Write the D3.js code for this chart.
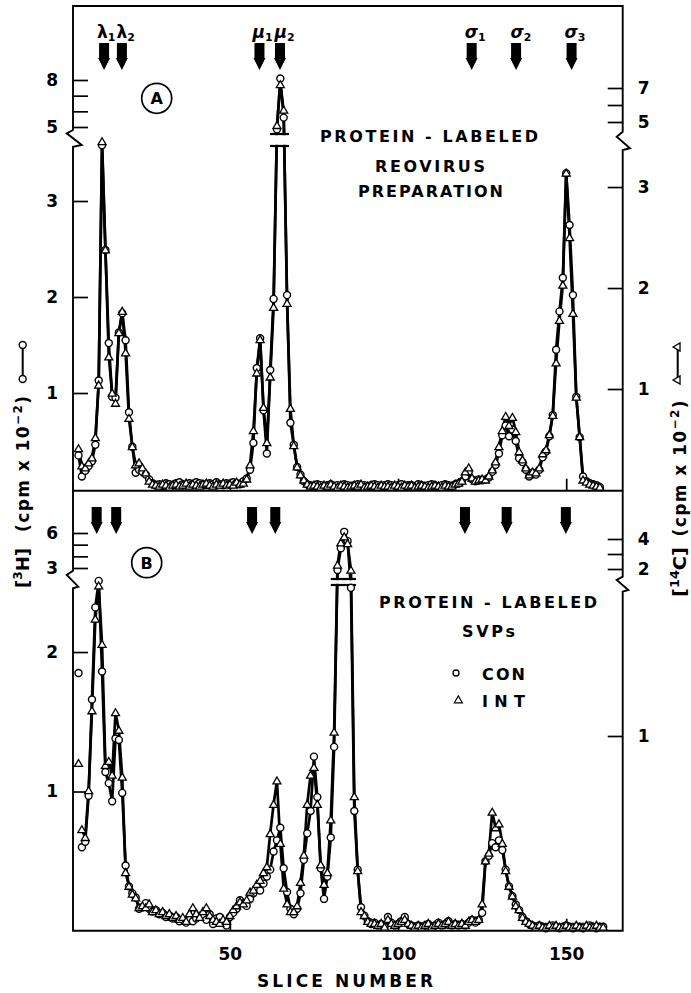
<!DOCTYPE html>
<html>
<head>
<meta charset="utf-8">
<script src="https://cdn.jsdelivr.net/npm/d3@7"></script>
<style>
  body { margin: 0; background: #fff; }
  svg text { font-family: "DejaVu Sans", sans-serif; font-weight: bold; fill: #000; }
</style>
</head>
<body>
<svg id="chart" width="691" height="993"></svg>
<script>
// ---- data ----
// panel A: reovirus preparation, slices 5..160
var firstSliceA = 5;
var conA = [0.35,0.13,0.19,0.24,0.29,0.46,1.13,3.58,2.49,1.52,
  0.96,0.95,1.63,1.83,1.55,0.8,0.44,0.17,0.2,0.18,
  0.15,0.1,0.06,0.04,0.05,0.03,0.06,0.05,0.04,0.06,
  0.07,0.05,0.04,0.06,0.05,0.07,0.06,0.05,0.04,0.06,
  0.05,0.07,0.05,0.04,0.06,0.05,0.07,0.06,0.05,0.08,
  0.11,0.2,0.48,1.26,1.57,0.82,0.37,1.24,1.98,4.85,
  8.1,5.6,2.02,0.69,0.46,0.23,0.15,0.08,0.05,0.04,
  0.03,0.05,0.04,0.03,0.04,0.05,0.03,0.04,0.03,0.05,
  0.04,0.03,0.04,0.05,0.03,0.04,0.03,0.04,0.05,0.04,
  0.03,0.04,0.05,0.04,0.03,0.04,0.05,0.03,0.04,0.04,
  0.03,0.05,0.04,0.03,0.04,0.05,0.04,0.03,0.04,0.05,
  0.04,0.03,0.05,0.06,0.08,0.13,0.18,0.1,0.08,0.1,
  0.09,0.1,0.12,0.18,0.25,0.37,0.56,0.66,0.55,0.62,
  0.5,0.32,0.28,0.2,0.13,0.17,0.15,0.2,0.33,0.39,
  0.55,0.77,1.45,1.85,2.2,3.29,2.75,2.02,0.96,0.54,
  0.13,0.08,0.06,0.05,0.04,0.02];
var intA = [0.41,0.24,0.22,0.27,0.32,0.52,1.04,3.45,2.38,1.32,
  0.96,0.86,1.56,1.77,1.36,0.71,0.43,0.25,0.27,0.22,
  0.17,0.09,0.06,0.05,0.04,0.06,0.05,0.03,0.05,0.06,
  0.04,0.05,0.07,0.04,0.06,0.05,0.04,0.06,0.07,0.05,
  0.04,0.06,0.05,0.07,0.05,0.06,0.05,0.08,0.06,0.07,
  0.11,0.25,0.59,1.16,1.49,0.82,0.47,1.12,1.81,4.8,
  7.2,5.7,1.85,0.81,0.44,0.23,0.15,0.1,0.06,0.04,
  0.05,0.04,0.03,0.05,0.04,0.06,0.04,0.03,0.05,0.04,
  0.03,0.04,0.05,0.04,0.06,0.03,0.04,0.05,0.04,0.03,
  0.05,0.04,0.04,0.03,0.05,0.04,0.03,0.05,0.04,0.05,
  0.03,0.04,0.05,0.04,0.03,0.04,0.05,0.04,0.03,0.05,
  0.04,0.04,0.06,0.07,0.09,0.18,0.22,0.12,0.09,0.1,
  0.11,0.1,0.14,0.2,0.28,0.43,0.59,0.73,0.64,0.72,
  0.58,0.38,0.3,0.22,0.15,0.18,0.17,0.22,0.36,0.4,
  0.55,0.74,1.26,1.68,2.03,3.14,2.5,1.75,0.92,0.53,
  0.1,0.08,0.06,0.05,0.04,0.03];

// panel B: SVPs, slices 5..161 (slice 5 plotted as a loose point)
var firstSliceB = 5;
var conB = [1.85,0.6,0.64,0.97,1.66,2.32,2.51,1.86,1.14,1.06,
  0.93,1.38,1.37,0.99,0.47,0.32,0.27,0.24,0.16,0.17,
  0.2,0.16,0.14,0.15,0.12,0.13,0.1,0.11,0.09,0.1,
  0.07,0.08,0.06,0.08,0.07,0.09,0.11,0.1,0.08,0.12,
  0.05,0.09,0.1,0.06,0.04,0.1,0.13,0.16,0.22,0.2,
  0.18,0.23,0.27,0.3,0.29,0.34,0.39,0.44,0.57,0.65,
  0.74,0.45,0.28,0.16,0.12,0.16,0.27,0.51,0.7,0.86,
  1.25,0.96,0.45,0.23,0.39,0.67,1.32,2.83,4.7,6.1,
  5.3,2.46,0.86,0.44,0.17,0.11,0.07,0.05,
  0.06,0.04,0.05,0.03,0.1,0.06,0.04,0.05,0.07,0.1,
  0.05,0.04,0.03,0.04,0.03,0.04,0.05,0.03,0.04,0.06,
  0.04,0.05,0.07,0.04,0.05,0.04,0.05,0.04,0.06,0.08,
  0.06,0.08,0.13,0.5,0.54,0.63,0.6,0.65,0.58,0.44,
  0.32,0.25,0.19,0.15,0.1,0.07,0.05,0.04,
  0.03,0.04,0.03,0.02,0.03,0.04,0.03,0.02,0.03,0.04,
  0.03,0.02,0.03,0.03,0.02,0.03,0.04,0.03,0.02,0.03,0.03];
var intB = [0.86,0.52,0.48,0.72,1.13,1.6,1.77,1.47,0.85,0.87,
  0.8,1.12,1.03,0.79,0.3,0.23,0.19,0.17,0.12,
  0.13,0.12,0.14,0.1,0.11,0.09,0.1,0.08,0.09,0.07,
  0.08,0.06,0.07,0.05,0.09,0.12,0.09,0.07,0.1,0.12,
  0.08,0.06,0.05,0.04,0.06,0.05,0.08,0.11,0.13,0.15,
  0.14,0.16,0.2,0.21,0.24,0.26,0.3,0.33,
  0.5,0.65,0.77,0.45,0.22,0.14,0.1,0.1,0.13,0.25,
  0.39,0.65,0.8,0.84,0.65,0.34,0.24,0.3,0.57,1.02,
  2.27,3.75,4.15,3.7,1.93,0.69,0.31,0.1,0.08,0.05,0.04,
  0.04,0.03,0.04,0.02,0.06,0.04,0.03,0.04,0.05,0.06,
  0.04,0.03,0.02,0.03,0.02,0.03,0.04,0.02,0.03,0.04,
  0.03,0.04,0.05,0.03,0.04,0.03,0.04,0.03,0.05,0.06,
  0.05,0.06,0.14,0.36,0.4,0.61,0.53,0.55,0.45,0.31,
  0.23,0.18,0.13,0.11,0.07,0.05,0.04,0.03,
  0.02,0.03,0.02,0.02,0.03,0.02,0.03,0.02,0.02,0.03,
  0.02,0.02,0.03,0.02,0.02,0.03,0.02,0.02,0.03,0.02,0.02];

// band markers (slice positions of the arrows)
var bandNames = ["λ","λ","μ","μ","σ","σ","σ"];
var bandSubs  = ["1","2","1","2","1","2","3"];
var bandsA = [12.6,17.9,58.8,64.9,121.9,135.1,151.6];
var bandsB = [10.4,16.2,56.6,63.5,119.9,132.3,149.9];

var xTickValues = [50,100,150];
var leftTicksA  = {lo:[1,2,3], up:[5,6,7,8], labels:[1,2,3,5,8]};
var rightTicksA = {lo:[1,2,3], up:[5,6,7],   labels:[1,2,3,5,7]};
var leftTicksB  = {lo:[1,2],   up:[3,4,5,6], labels:[1,2,3,6]};
var rightTicksB = {lo:[1],     up:[2,3,4],   labels:[1,2,4]};

// ---- layout ----
var L = 73, R = 622.7, TOP = 6, MID = 490.7, BOT = 930.7;
var svg = d3.select("#chart");
svg.append("rect").attr("width",691).attr("height",993).attr("fill","#fff");

var x = d3.scaleLinear().domain([3.36,166.8]).range([L,R]);

function broken(lo, loR, up, upR){
  var a = d3.scaleLinear().domain(lo).range(loR);
  var b = d3.scaleLinear().domain(up).range(upR);
  var f = function(v){ return v > lo[1] ? b(v) : a(v); };
  f.lo = a; f.up = b;
  return f;
}
var yLA = broken([0,3.6],[489,143.4],[5,8],[127,80]);
var yRA = broken([0,3.45],[490,141.6],[5,7],[122,88]);
var yLB = broken([0,2.52],[931,579.5],[3,6],[568,533]);
var yRB = broken([0,1.78],[931,583.9],[2,4],[569,539]);

// ---- frame with axis breaks ----
var frame = svg.append("g").attr("fill","none").attr("stroke","#000").attr("stroke-width",1.9);
frame.append("path").attr("d",
  "M"+L+","+TOP+" H"+R+
  " V131.7 L616.7,136.7 L630,148.3 L"+R+",150 V576.7 L616.7,580 L628.3,590 L"+R+",591.7 V"+BOT+
  " H"+L+" V588.3 L78.3,586.7 L66.7,575 L"+L+",570.7 V146.7 L81.7,145 L66.7,133.3 L"+L+",130 Z");
frame.append("line").attr("x1",L).attr("x2",R).attr("y1",MID).attr("y2",MID);

function styleAxis(g){
  g.select(".domain").remove();
  g.selectAll("line").attr("stroke","#000").attr("stroke-width",1.7);
  g.selectAll("text").attr("font-family","DejaVu Sans").attr("font-weight","bold").attr("font-size",17);
}
function yAxes(scale, ticks, side){
  var mk = side === "left" ? d3.axisLeft : d3.axisRight;
  var xPos = side === "left" ? L : R;
  var fmt = function(d){ return ticks.labels.indexOf(d) >= 0 ? d : ""; };
  [[scale.lo,ticks.lo],[scale.up,ticks.up]].forEach(function(p){
    svg.append("g").attr("transform","translate("+xPos+",0)")
      .call(mk(p[0]).tickValues(p[1]).tickSizeInner(-15).tickSizeOuter(0).tickPadding(15).tickFormat(fmt))
      .call(styleAxis);
  });
}
yAxes(yLA, leftTicksA, "left");
yAxes(yRA, rightTicksA, "right");
yAxes(yLB, leftTicksB, "left");
yAxes(yRB, rightTicksB, "right");

svg.append("g").attr("transform","translate(0,"+MID+")")
  .call(d3.axisBottom(x).tickValues(xTickValues).tickSizeInner(-12).tickSizeOuter(0).tickFormat(""))
  .call(styleAxis);
svg.append("g").attr("transform","translate(0,"+BOT+")")
  .call(d3.axisBottom(x).tickValues(xTickValues).tickSizeInner(-12).tickSizeOuter(0).tickPadding(17))
  .call(styleAxis);

// ---- data series ----
var tri = d3.symbol().type(d3.symbolTriangle).size(28);

function drawPanel(con, int, first, yL, yR, skipFirst, brk){
  var g = svg.append("g");
  var pc = con.map(function(v,i){ return {s:first+i, v:v}; });
  var pt = int.map(function(v,i){ return {s:first+i, v:v}; });
  var k = skipFirst ? 1 : 0;
  var lineC = d3.line().x(function(d){ return x(d.s); }).y(function(d){ return yL(d.v); });
  var lineT = d3.line().x(function(d){ return x(d.s); }).y(function(d){ return yR(d.v); });
  g.append("path").attr("d", lineT(pt.slice(k))).attr("fill","none").attr("stroke","#000").attr("stroke-width",2.7).attr("stroke-linejoin","round");
  g.append("path").attr("d", lineC(pc.slice(k))).attr("fill","none").attr("stroke","#000").attr("stroke-width",2.7).attr("stroke-linejoin","round");

  // break marks on the tall peak
  var bx0 = x(brk.s0), bx1 = x(brk.s1);
  g.append("rect").attr("x",bx0).attr("y",brk.y0+1.2).attr("width",bx1-bx0).attr("height",brk.y1-brk.y0-2.4).attr("fill","#fff");
  [brk.y0, brk.y1].forEach(function(yy){
    g.append("line").attr("x1",bx0).attr("x2",bx1).attr("y1",yy).attr("y2",yy).attr("stroke","#000").attr("stroke-width",2.2);
  });

  g.selectAll(".c").data(pc).enter().append("circle")
    .attr("cx",function(d){ return x(d.s); }).attr("cy",function(d){ return yL(d.v); })
    .attr("r",3.5).attr("fill","#fff").attr("stroke","#000").attr("stroke-width",1.4);
  g.selectAll(".t").data(pt).enter().append("path")
    .attr("d",tri).attr("transform",function(d){ return "translate("+x(d.s)+","+(yR(d.v)+0.8)+")"; })
    .attr("fill","#fff").attr("stroke","#000").attr("stroke-width",1.3);
}
drawPanel(conA, intA, firstSliceA, yLA, yRA, false, {s0:61.9, s1:67.6, y0:134, y1:146});
drawPanel(conB, intB, firstSliceB, yLB, yRB, true,  {s0:80.0, s1:87.5, y0:579, y1:585});

// ---- band arrows and labels ----
function arrow(cx, y0){
  return "M"+(cx-5)+","+y0+" L"+(cx+5)+","+y0+" L"+(cx+5)+","+(y0+15)+" L"+(cx+6)+","+(y0+15)+
    " L"+cx+","+(y0+27)+" L"+(cx-6)+","+(y0+15)+" L"+(cx-5)+","+(y0+15)+" Z";
}
bandsA.forEach(function(s,i){
  svg.append("path").attr("d",arrow(x(s),43)).attr("fill","#000");
  var t = svg.append("text").attr("x",x(s) - (i % 2 === 0 ? 7 : 5.5)).attr("y",38);
  t.append("tspan").attr("font-size",17).attr("font-style", i>1 ? "italic" : "normal").text(bandNames[i]);
  t.append("tspan").attr("font-size",11).attr("dy",3).text(bandSubs[i]);
});
bandsB.forEach(function(s){
  svg.append("path").attr("d",arrow(x(s),507)).attr("fill","#000");
});

// panel letters
[["A",156.7,98.3],["B",146.7,562.7]].forEach(function(p){
  svg.append("circle").attr("cx",p[1]).attr("cy",p[2]).attr("r",15).attr("fill","none").attr("stroke","#000").attr("stroke-width",1.7);
  svg.append("text").attr("x",p[1]).attr("y",p[2]+6).attr("text-anchor","middle").attr("font-size",16).text(p[0]);
});

// panel titles
function label(txt, cx, y, w, size){
  svg.append("text").attr("x",cx).attr("y",y).attr("text-anchor","middle")
    .attr("font-size",size || 16).attr("textLength",w).attr("lengthAdjust","spacing").text(txt);
}
label("PROTEIN - LABELED", 429, 141.7, 218);
label("REOVIRUS", 430, 171.7, 110);
label("PREPARATION", 430.5, 196.7, 145);
label("PROTEIN - LABELED", 488, 608, 218);
label("SVPs", 488.5, 636.7, 53);

// legend
svg.append("circle").attr("cx",456).attr("cy",673).attr("r",3).attr("fill","#fff").attr("stroke","#000").attr("stroke-width",1.3);
svg.append("path").attr("d",tri).attr("transform","translate(458.3,700.5)").attr("fill","#fff").attr("stroke","#000").attr("stroke-width",1.2);
svg.append("text").attr("x",482).attr("y",680).attr("font-size",16).attr("textLength",43).attr("lengthAdjust","spacing").text("CON");
svg.append("text").attr("x",482).attr("y",706.7).attr("font-size",16).attr("textLength",43).attr("lengthAdjust","spacing").text("INT");

// x-axis title
label("SLICE NUMBER", 345, 987, 176, 17);

// y-axis titles (rotated)
function yTitle(xb, yIso, yUnit, iso, wIso){
  var t1 = svg.append("text").attr("transform","translate("+xb+","+yIso+") rotate(-90)")
    .attr("text-anchor","middle").attr("font-size",18).attr("textLength",wIso).attr("lengthAdjust","spacingAndGlyphs");
  t1.append("tspan").text("[");
  t1.append("tspan").attr("font-size",12).attr("dy",-7).text(iso[0]);
  t1.append("tspan").attr("dy",7).text(iso[1] + "]");
  var t2 = svg.append("text").attr("transform","translate("+xb+","+yUnit+") rotate(-90)")
    .attr("text-anchor","middle").attr("font-size",17).attr("textLength",136).attr("lengthAdjust","spacing");
  t2.append("tspan").text("(cpm x 10");
  t2.append("tspan").attr("font-size",12).attr("dy",-7).text("−2");
  t2.append("tspan").attr("dy",7).text(")");
}
yTitle(29, 568, 464, ["3","H"], 40);
yTitle(686, 572, 468.5, ["14","C"], 50);

// series keys beside the titles
svg.append("line").attr("x1",22.7).attr("x2",22.7).attr("y1",345).attr("y2",379).attr("stroke","#000").attr("stroke-width",2);
[345,379].forEach(function(yy){
  svg.append("circle").attr("cx",22.7).attr("cy",yy).attr("r",3.5).attr("fill","#fff").attr("stroke","#000").attr("stroke-width",1.4);
});
svg.append("line").attr("x1",677.7).attr("x2",677.7).attr("y1",347).attr("y2",380).attr("stroke","#000").attr("stroke-width",2);
[347,380].forEach(function(yy){
  svg.append("path").attr("d",tri).attr("transform","translate(677.7,"+yy+") rotate(-90)")
    .attr("fill","#fff").attr("stroke","#000").attr("stroke-width",1.3);
});
</script>
</body>
</html>
